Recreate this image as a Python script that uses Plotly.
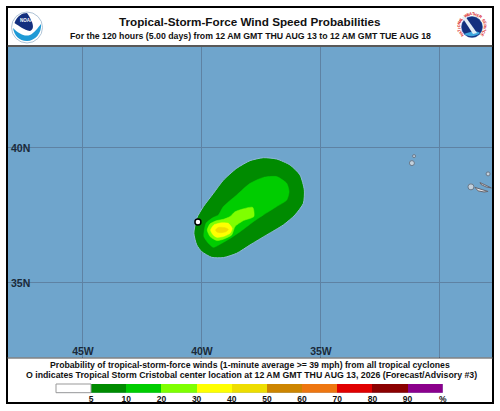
import math
import plotly.graph_objects as go

W = 500
H = 411

# probability contours (lon, lat)
band_names = ["5-10%", "10-20%", "20-30%", "30-40%", "40-50%"]
band_colors = ["#008b00", "#00cd00", "#7fff00", "#ffff00", "#eedd00"]

lon_05 = [-40.34, -40.22, -39.94, -39.52, -39.10, -38.54, -37.98, -37.42, -36.86, -36.30, -35.88,
          -35.70, -35.74, -36.09, -36.58, -37.28, -37.98, -38.54, -39.10, -39.59, -40.01, -40.22, -40.34]
lat_05 = [36.84, 37.40, 37.83, 38.32, 38.81, 39.25, 39.53, 39.64, 39.59, 39.37, 39.00,
          38.44, 37.95, 37.52, 37.15, 36.78, 36.41, 36.10, 35.94, 35.95, 36.16, 36.41, 36.84]
lon_10 = [-39.92, -39.83, -39.52, -39.31, -39.10, -38.54, -37.98, -37.42, -36.86, -36.44, -36.34,
          -36.44, -36.86, -37.42, -37.84, -38.40, -38.82, -39.17, -39.52, -39.73, -39.92]
lat_10 = [36.72, 37.21, 37.43, 37.52, 37.83, 38.26, 38.69, 38.91, 38.94, 38.69, 38.38,
          38.07, 37.83, 37.52, 37.27, 36.90, 36.65, 36.47, 36.32, 36.47, 36.72]
lon_20 = [-39.78, -39.66, -39.38, -39.10, -38.82, -38.61, -37.87, -37.82, -38.26, -38.61, -38.75,
          -39.10, -39.38, -39.66, -39.78]
lat_20 = [36.96, 37.19, 37.31, 37.36, 37.46, 37.64, 37.80, 37.46, 37.31, 37.09, 36.78,
          36.62, 36.57, 36.72, 36.96]
lon_30 = [-39.64, -39.50, -39.17, -38.89, -38.73, -38.82, -39.10, -39.38, -39.55, -39.64]
lat_30 = [36.96, 37.15, 37.23, 37.21, 37.02, 36.84, 36.72, 36.69, 36.80, 36.96]
lon_40 = [-39.43, -39.31, -39.03, -38.89, -38.99, -39.24, -39.38, -39.43]
lat_40 = [36.96, 37.06, 37.05, 36.99, 36.90, 36.86, 36.89, 36.96]

center_lon = [-40.17]
center_lat = [37.26]

# Azores
sao_jorge_lon = [-28.32, -28.07, -27.84, -28.07, -28.28, -28.32]
sao_jorge_lat = [38.72, 38.63, 38.52, 38.56, 38.65, 38.72]
pico_lon = [-28.53, -28.32, -27.98, -28.15, -28.40, -28.53]
pico_lat = [38.54, 38.48, 38.39, 38.37, 38.41, 38.54]
dot_lon = [-31.18, -31.09, -27.98, -28.70]
dot_lat = [39.44, 39.70, 39.04, 38.56]
dot_size = [5, 3, 4, 6]

lon_ticks = [-45, -40, -35, -30]
lon_labels = ["45W", "40W", "35W", ""]
lat_ticks = [35, 40]
lat_labels = ["35N", "40N"]

legend_labels = ["5", "10", "20", "30", "40", "50", "60", "70", "80", "90", "%"]
legend_colors = ["#ffffff", "#008b00", "#00cd00", "#7fff00", "#ffff00", "#eedd00",
                 "#cd8500", "#ee7610", "#e00000", "#8b0000", "#8b008b"]

title = "Tropical-Storm-Force Wind Speed Probabilities"
subtitle = "For the 120 hours (5.00 days) from 12 AM GMT THU AUG 13 to 12 AM GMT TUE AUG 18"
note1 = "Probability of tropical-storm-force winds (1-minute average >= 39 mph) from all tropical cyclones"
note2 = "O indicates Tropical Storm Cristobal center location at 12 AM GMT THU AUG 13, 2026 (Forecast/Advisory #3)"

FONT = "Liberation Sans"
INK = "#111111"


def X(px):
    return px / W


def Y(py):
    return 1 - py / H


def poly(points, fill, line=None):
    d = "M " + " L ".join(f"{X(a):.4f},{Y(b):.4f}" for a, b in points) + " Z"
    return dict(type="path", path=d, xref="paper", yref="paper", fillcolor=fill,
                line=dict(width=0 if line is None else 1, color=line or fill), layer="above")


def curve(d, fill):
    # d is a list of (command, px, py, ...) pieces in pixels
    parts = []
    for piece in d:
        nums = piece[1:]
        xy = [f"{X(nums[i]):.4f},{Y(nums[i + 1]):.4f}" for i in range(0, len(nums), 2)]
        parts.append(piece[0] + " " + " ".join(xy))
    return dict(type="path", path=" ".join(parts) + " Z", xref="paper", yref="paper",
                fillcolor=fill, line=dict(width=0), layer="above")


def disc(cx, cy, r, fill, line=None, lw=0):
    return dict(type="circle", xref="paper", yref="paper", x0=X(cx - r), x1=X(cx + r),
                y0=Y(cy + r), y1=Y(cy - r), fillcolor=fill,
                line=dict(width=lw, color=line or fill), layer="above")


def text(px, py, s, size, color=INK, bold=True, angle=0):
    return dict(xref="paper", yref="paper", x=X(px), y=Y(py), text=f"<b>{s}</b>" if bold else s,
                showarrow=False, xanchor="center", yanchor="middle", textangle=angle,
                font=dict(family=FONT, size=size, color=color))


fig = go.Figure()

bands = [(lon_05, lat_05), (lon_10, lat_10), (lon_20, lat_20), (lon_30, lat_30), (lon_40, lat_40)]
for i, (lons, lats) in enumerate(bands):
    fig.add_trace(go.Scatter(
        x=lons, y=lats, name=band_names[i], mode="lines", fill="toself",
        fillcolor=band_colors[i],
        line=dict(color="#8fb9d8" if i == 0 else band_colors[i], width=1 if i == 0 else 0.5,
                  shape="spline", smoothing=0.6),
        hoverinfo="name",
    ))

for lons, lats in [(sao_jorge_lon, sao_jorge_lat), (pico_lon, pico_lat)]:
    fig.add_trace(go.Scatter(x=lons, y=lats, mode="lines", fill="toself", fillcolor="#e8e4e4",
                             line=dict(color="#66666e", width=1), hoverinfo="skip"))

fig.add_trace(go.Scatter(x=dot_lon, y=dot_lat, mode="markers", hoverinfo="skip",
                         marker=dict(size=dot_size, color="#e8e4e4", line=dict(color="#66666e", width=1))))

fig.add_trace(go.Scatter(x=center_lon, y=center_lat, mode="markers", hoverinfo="skip",
                         marker=dict(size=6, color="white", line=dict(color="black", width=1.5))))

# color key along the bottom
fig.add_trace(go.Bar(x=[i + 0.5 for i in range(len(legend_colors))], y=[1] * len(legend_colors),
                     width=1, marker=dict(color=legend_colors, line=dict(width=0)),
                     xaxis="x2", yaxis="y2", hoverinfo="skip"))

shapes = [
    # frame
    dict(type="rect", xref="paper", yref="paper", x0=X(7), x1=X(493), y0=Y(403), y1=Y(7),
         line=dict(color="black", width=2), layer="above"),
    dict(type="line", xref="paper", yref="paper", x0=X(7), x1=X(493), y0=Y(46), y1=Y(46),
         line=dict(color="#222222", width=1.5), layer="above"),
    dict(type="line", xref="paper", yref="paper", x0=X(7), x1=X(493), y0=Y(358), y1=Y(358),
         line=dict(color="#444444", width=1), layer="above"),
    # white legend box edge
    dict(type="rect", xref="paper", yref="paper", x0=X(56), x1=X(91), y0=Y(392.7), y1=Y(384),
         line=dict(color="#999999", width=1), layer="above"),
    # NOAA logo
    disc(27, 27.5, 15.5, "#ffffff", "#9ab4cc", 0.8),
    curve([("M", 14.5, 23), ("C", 17, 16, 22, 13, 27, 13, 33, 13, 38, 17, 39.5, 23),
           ("C", 36, 26, 33, 30, 30, 31), ("C", 24, 30, 19, 26, 14.5, 23)], "#14307f"),
    curve([("M", 13, 28), ("C", 18, 33, 24, 37, 30, 35), ("C", 34, 33, 38, 28, 41, 24),
           ("C", 42, 33, 35, 41, 27, 41), ("C", 19, 41, 14, 35, 13, 28)], "#1e9ad6"),
    # NWS logo
    disc(472, 27, 10.5, "#14307f", "#2050a0", 0.5),
    curve([("M", 464, 34), ("C", 468, 37, 476, 37, 480, 33), ("C", 476, 30, 470, 32, 464, 34)], "#3ea6de"),
    poly([(462, 17), (465, 16), (477, 33), (473, 34)], "#e4eef6"),
]

annotations = [
    text(250, 21, title, 11.7),
    text(250, 35.5, subtitle, 8.75),
    text(250, 364.5, note1, 8.7),
    text(251, 374.5, note2, 8.75),
    text(27, 20.5, "NOAA", 4.5, color="#ffffff"),
]

# lettering around the NWS seal
ring = "NATIONAL WEATHER SERVICE"
for i, ch in enumerate(ring):
    ang = -128 + 256 * i / (len(ring) - 1)
    rad = math.radians(ang)
    if ch != " ":
        annotations.append(text(472 + 13.3 * math.sin(rad), 27 - 13.3 * math.cos(rad), ch, 4,
                                color="#d8201c", angle=ang))

fig.update_layout(
    width=W,
    height=H,
    margin=dict(l=0, r=0, t=0, b=0),
    autosize=False,
    showlegend=False,
    paper_bgcolor="white",
    plot_bgcolor="#6fa5cc",
    bargap=0,
    shapes=shapes,
    annotations=annotations,
    xaxis=dict(domain=[X(8), X(492)], range=[-48.15, -27.815], tickvals=lon_ticks, ticktext=lon_labels,
               automargin=False, ticklabelposition="inside", ticklabelstandoff=-3, ticks="", showgrid=True,
               gridcolor="#5e82a3", gridwidth=1, zeroline=False, fixedrange=True,
               tickfont=dict(family=FONT, size=10.5, color="#1a2a3a", weight="bold")),
    yaxis=dict(domain=[Y(357.5), Y(47)], range=[32.24, 43.74], tickvals=lat_ticks, ticktext=lat_labels,
               automargin=False, ticklabelposition="inside", ticks="", showgrid=True, gridcolor="#5e82a3",
               gridwidth=1, zeroline=False, fixedrange=True,
               tickfont=dict(family=FONT, size=10.5, color="#1a2a3a", weight="bold")),
    xaxis2=dict(domain=[X(56), X(442.7)], range=[0, 11], anchor="y2", tickvals=list(range(1, 12)),
                automargin=False, ticktext=legend_labels, ticks="", showgrid=False, zeroline=False, fixedrange=True,
                tickfont=dict(family=FONT, size=8.5, color=INK, weight="bold")),
    yaxis2=dict(domain=[Y(392.7), Y(384)], range=[0, 1], anchor="x2", visible=False, fixedrange=True,
                automargin=False),
)

fig.write_html("out.html", config=dict(displayModeBar=False),
               post_script="document.documentElement.style.overflow='hidden';document.body.style.margin='0';document.body.style.overflow='hidden';")
